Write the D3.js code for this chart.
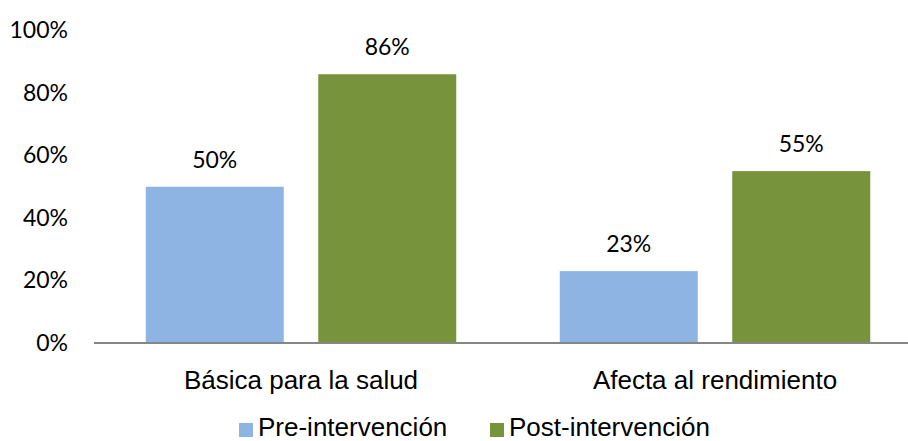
<!DOCTYPE html>
<html>
<head>
<meta charset="utf-8">
<script src="https://cdn.jsdelivr.net/npm/d3@7"></script>
<style>
  html, body { margin: 0; padding: 0; background: #fff; }
  svg { display: block; }
</style>
</head>
<body>
<script>
const categories = ["Básica para la salud", "Afecta al rendimiento"];
const seriesNames = ["Pre-intervención", "Post-intervención"];
const preValues = [0.50, 0.23];
const postValues = [0.86, 0.55];
const yTicks = [0, 0.2, 0.4, 0.6, 0.8, 1.0];
const colors = ["#8EB4E3", "#77933C"];

const W = 908, H = 441;
const svg = d3.select("body").append("svg").attr("width", W).attr("height", H);

const numFont = "Lato, 'Open Sans', sans-serif";
const txtFont = "'Liberation Sans', Arial, sans-serif";

const x = d3.scaleBand().domain(categories).range([94, 922]).paddingInner(0).paddingOuter(0);
const x1 = d3.scaleBand().domain(seriesNames).range([0, x.bandwidth()]).paddingInner(0.2).paddingOuter(0.3);
const y = d3.scaleLinear().domain([0, 1]).range([343, 30.5]);

const rows = categories.map((c, i) => ({ cat: c, vals: [preValues[i], postValues[i]] }));

// Y axis labels
const yAxis = d3.axisLeft(y).tickValues(yTicks).tickFormat(d3.format(".0%")).tickSize(0).tickPadding(0);
const gy = svg.append("g").attr("transform", "translate(68,0)").call(yAxis);
gy.select(".domain").remove();
gy.selectAll("text").attr("font-family", numFont).attr("font-size", 23).attr("fill", "#000");

// Bars
const g = svg.append("g");
const groups = g.selectAll("g.cat").data(rows).join("g").attr("class", "cat")
  .attr("transform", d => `translate(${x(d.cat)},0)`);
groups.selectAll("rect").data(d => d.vals.map((v, j) => ({ v, s: seriesNames[j], j })))
  .join("rect")
  .attr("x", d => x1(d.s))
  .attr("width", x1.bandwidth())
  .attr("y", d => y(d.v))
  .attr("height", d => y(0) - y(d.v))
  .attr("fill", d => colors[d.j]);
groups.selectAll("text.val").data(d => d.vals.map((v, j) => ({ v, s: seriesNames[j], j })))
  .join("text").attr("class", "val")
  .attr("x", d => x1(d.s) + x1.bandwidth() / 2)
  .attr("y", d => y(d.v) - 19)
  .attr("text-anchor", "middle")
  .attr("font-family", numFont).attr("font-size", 23).attr("fill", "#000")
  .text(d => d3.format(".0%")(d.v));

// X axis
const xAxis = d3.axisBottom(x).tickSize(0).tickPadding(0);
const gx = svg.append("g").attr("transform", `translate(0,${y(0)})`).call(xAxis);
gx.select(".domain").attr("stroke", "#868686").attr("stroke-width", 2).attr("d", `M94,0H${W}`);
gx.selectAll("text").attr("font-family", txtFont).attr("font-size", 26).attr("fill", "#000")
  .attr("dy", 0).attr("y", 46);

// Legend
const legend = svg.append("g");
const legendX = [239, 490];
seriesNames.forEach((s, i) => {
  legend.append("rect").attr("x", legendX[i]).attr("y", 423).attr("width", 14).attr("height", 14).attr("fill", colors[i]);
  legend.append("text").attr("x", legendX[i] + 19).attr("y", 436)
    .attr("font-family", txtFont).attr("font-size", 26).attr("fill", "#000").text(s);
});
</script>
</body>
</html>
